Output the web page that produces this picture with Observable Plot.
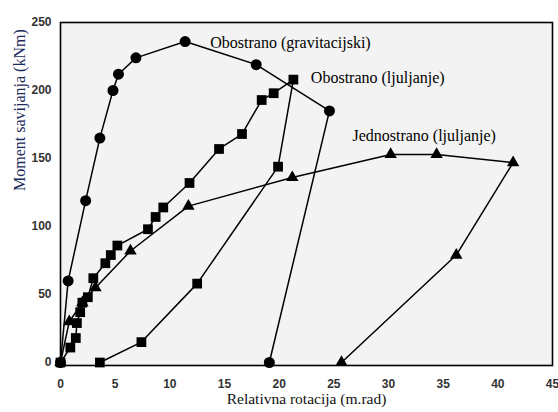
<!DOCTYPE html>
<html>
<head>
<meta charset="utf-8">
<script src="https://cdn.jsdelivr.net/npm/d3@7"></script>
<script src="https://cdn.jsdelivr.net/npm/@observablehq/plot@0.6"></script>
<style>
  html, body { margin: 0; padding: 0; background: #ffffff; }
  #chart { width: 558px; height: 412px; }
</style>
</head>
<body>
<div id="chart"></div>
<script>
// Obostrano (gravitacijski) — circles
const gravX = [0, 0.7, 2.3, 3.6, 4.8, 5.3, 6.9, 11.4, 17.9, 24.6, 19.1];
const gravY = [0, 60, 119, 165, 200, 212, 224, 236, 219, 185, 0];

// Obostrano (ljuljanje) — squares
const oboX = [0, 0.9, 1.4, 1.5, 1.8, 2.0, 2.5, 3.0, 4.1, 4.6, 5.2, 8.0, 8.7, 9.4, 11.8, 14.5, 16.6, 18.4, 19.5, 21.3, 19.9, 12.5, 7.4, 3.6];
const oboY = [0, 11, 18, 29, 37, 44, 48, 62, 73, 79, 86, 98, 107, 114, 132, 157, 168, 193, 198, 208, 144, 58, 15, 0];

// Jednostrano (ljuljanje) — triangles
const jedX = [0, 0.8, 2.0, 3.2, 6.4, 11.7, 21.2, 30.2, 34.4, 41.4, 36.2, 25.7];
const jedY = [0, 30, 44, 55, 82, 115, 136, 153, 153, 147, 79, 0];

const xTicks = [0, 5, 10, 15, 20, 25, 30, 35, 40, 45];
const yTicks = [0, 50, 100, 150, 200, 250];

const seriesLabels = ["Obostrano (gravitacijski)", "Obostrano (ljuljanje)", "Jednostrano (ljuljanje)"];
const labelX = [13.7, 22.9, 26.7];
const labelY = [235, 209, 167];

const xTitle = "Relativna rotacija (m.rad)";
const yTitle = "Moment savijanja (kNm)";

const toRows = (xs, ys) => xs.map((x, i) => ({x, y: ys[i]}));
const grav = toRows(gravX, gravY);
const obo = toRows(oboX, oboY);
const jed = toRows(jedX, jedY);
const labels = seriesLabels.map((t, i) => ({t, x: labelX[i], y: labelY[i]}));

const serif = "'Liberation Serif', 'DejaVu Serif', serif";
const sans = "'Liberation Sans', Arial, sans-serif";

const chart = Plot.plot({
  width: 558,
  height: 412,
  marginLeft: 60,
  marginRight: 6,
  marginTop: 22,
  marginBottom: 47,
  style: {background: "#ffffff", fontFamily: sans, overflow: "visible"},
  x: {domain: [0, 45]},
  y: {domain: [-2.2, 250]},
  marks: [
    Plot.frame({fill: "#f3f3f3"}),
    Plot.axisX({ticks: xTicks, tickSize: 0, tickPadding: 14, label: null, fontSize: 12, fontWeight: "bold", fill: "#333"}),
    Plot.axisY({ticks: yTicks, tickSize: 0, tickPadding: 9, label: null, fontSize: 12, fontWeight: "bold", fill: "#333"}),
    Plot.line(grav, {x: "x", y: "y", stroke: "#000", strokeWidth: 1.5}),
    Plot.line(obo, {x: "x", y: "y", stroke: "#000", strokeWidth: 1.5}),
    Plot.line(jed, {x: "x", y: "y", stroke: "#000", strokeWidth: 1.5}),
    Plot.dot(grav, {x: "x", y: "y", r: 5.5, symbol: "circle", fill: "#000", stroke: "none"}),
    Plot.dot(obo, {x: "x", y: "y", r: 5.5, symbol: "square", fill: "#000", stroke: "none"}),
    Plot.dot(jed, {x: "x", y: "y", r: 4.6, symbol: "triangle", fill: "#000", stroke: "none"}),
    Plot.text(labels, {x: "x", y: "y", text: "t", textAnchor: "start", fontSize: 16, fontFamily: serif, fill: "#000"}),
    Plot.frame({stroke: "#000", strokeWidth: 1.6}),
    Plot.text([xTitle], {text: d => d, frameAnchor: "bottom", dy: 38, fontSize: 15.5, fontFamily: serif, fill: "#111"}),
    Plot.text([yTitle], {text: d => d, frameAnchor: "left", dx: -41, dy: -3, rotate: -90, fontSize: 16, fontFamily: serif, fill: "#1c2a5c"})
  ]
});
document.getElementById("chart").append(chart);
</script>
</body>
</html>
